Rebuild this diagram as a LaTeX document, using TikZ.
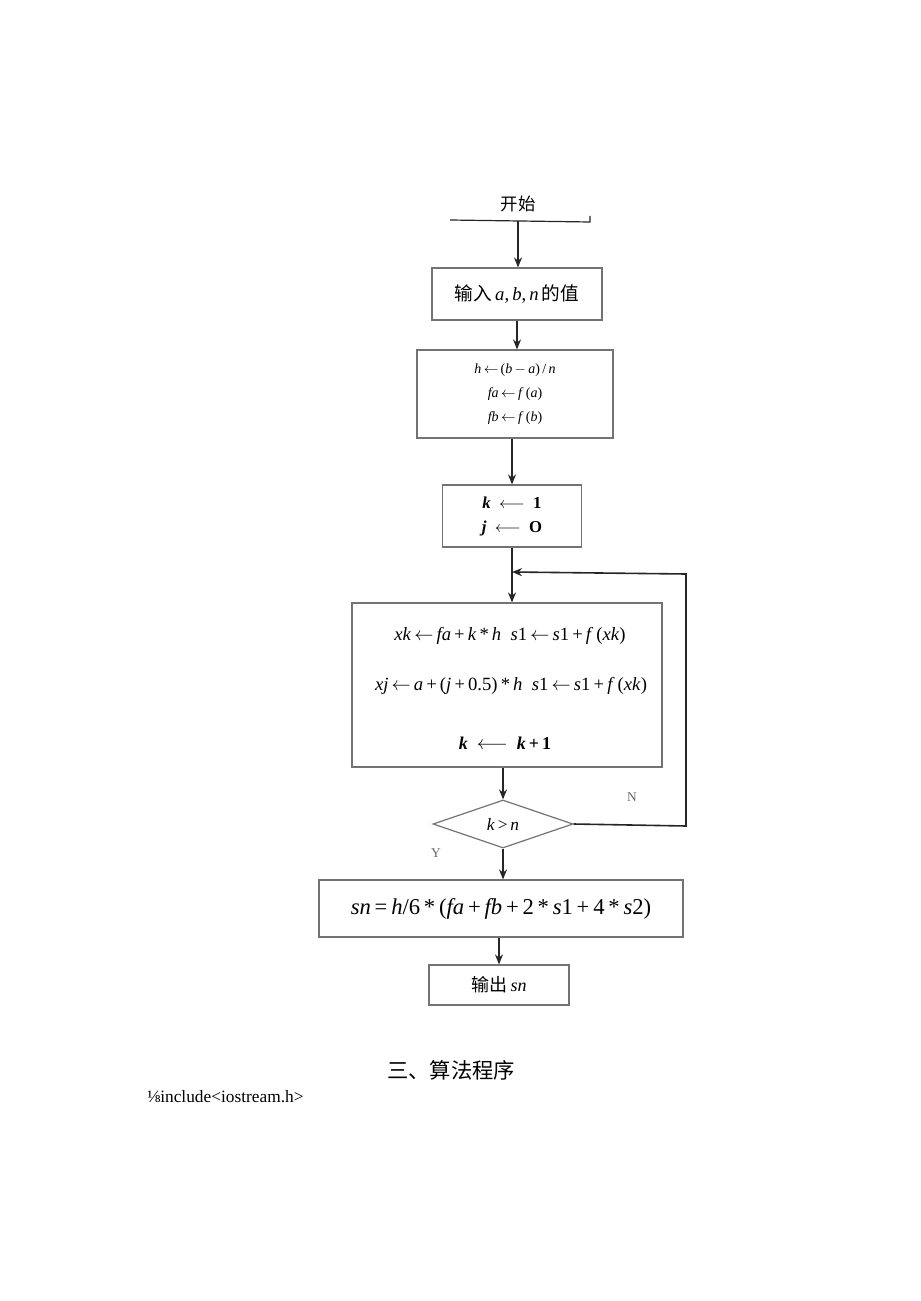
\documentclass[tikz,border=0pt]{standalone}
\usepackage{fontspec}
\setmainfont{Liberation Serif}
\newfontfamily\cjk{Noto Sans CJK SC}
\usetikzlibrary{shapes.geometric,arrows.meta}
\newcommand{\I}[1]{\textit{#1}}
\newcommand{\la}{\ensuremath{\leftarrow}}
\newcommand{\op}[1]{\,#1\,}
\begin{document}
\begin{tikzpicture}[x=0.75pt,y=-0.75pt,
  box/.style={draw=black!55,line width=0.9pt,rectangle,inner sep=0pt},
  conn/.style={draw=black!85,line width=1.2pt},
  arr/.style={conn,-{Stealth[length=7.5pt,width=6pt]}},
  lbl/.style={inner sep=0pt,text=black!60,font=\fontsize{10}{11}\selectfont}]
\useasboundingbox (0,0) rectangle (920,1301);
\fill[white] (0,0) rectangle (920,1301);
% start
\node[inner sep=0pt,font=\cjk\fontsize{13}{14}\selectfont] (start) at (518,204) {开始};
\coordinate (sl) at (450,220);
\coordinate (sr) at (590,222);
\coordinate (st) at (590,216);
\coordinate (sm) at (518,221);
\draw[conn,line width=0.9pt] (sl) -- (sr) -- (st);
% boxes
\node[box,minimum width=127.5pt,minimum height=39pt,font=\fontsize{14}{16}\selectfont] (b1) at (517,294) {{\cjk 输入}\,\I{a},\,\I{b},\,\I{n}\,{\cjk 的值}};
\node[box,minimum width=147pt,minimum height=66pt,align=center,font=\fontsize{10.5}{18}\selectfont] (b2) at (515,394)
 {\I{h}\,\la\,(\I{b}\,$-$\,\I{a})\,/\,\I{n}\\ \I{fa}\,\la\,\I{f}\,(\I{a})\\ \I{fb}\,\la\,\I{f}\,(\I{b})};
\node[box,minimum width=104.25pt,minimum height=46.5pt,align=center,font=\bfseries\fontsize{12.5}{18}\selectfont] (b3) at (512,516)
 {\I{k} \ $\longleftarrow$ \ 1\\ \I{j} \ $\longleftarrow$ \ O};
\node[box,minimum width=232.5pt,minimum height=123pt] (b4) at (507,685) {};
\node[inner sep=0pt,font=\fontsize{14}{16}\selectfont] (l1) at (510,636) {\I{xk}\op{\la}\I{fa}\op{+}\I{k}\op{*}\I{h}\ \ \I{s}1\op{\la}\I{s}1\op{+}\I{f}\,(\I{xk})};
\node[inner sep=0pt,font=\fontsize{14}{16}\selectfont] (l2) at (511,686) {\I{xj}\op{\la}\I{a}\op{+}(\I{j}\op{+}0.5)\op{*}\I{h}\ \ \I{s}1\op{\la}\I{s}1\op{+}\I{f}\,(\I{xk})};
\node[inner sep=0pt,font=\bfseries\fontsize{13.5}{15}\selectfont] (l3) at (505,743) {\I{k}\ \ $\longleftarrow$\ \ \I{k}\op{+}1};
\node[draw=black!55,line width=0.9pt,diamond,aspect=2.9,inner sep=0pt,minimum width=105pt,minimum height=36pt,font=\fontsize{13}{14}\selectfont] (d) at (503,824) {\I{k}\op{>}\I{n}};
\node[box,minimum width=273pt,minimum height=42.75pt,font=\fontsize{17}{19}\selectfont] (b5) at (501,908.5)
 {\I{sn}\op{=}\I{h}/6\op{*}(\I{fa}\op{+}\I{fb}\op{+}2\op{*}\I{s}1\op{+}4\op{*}\I{s}2)};
\node[box,minimum width=105pt,minimum height=30pt,font=\fontsize{13.5}{15}\selectfont] (b6) at (499,985) {{\cjk 输出}\,\I{sn}};
% labels
\node[lbl] (N) at (632,797) {N};
\node[lbl] (Y) at (436,853) {Y};
% connectors
\draw[arr] (sm) -- (sm |- b1.north);
\draw[arr] (b1.south) -- (b1.south |- b2.north);
\draw[arr] (b2.south -| b3.north) -- (b3.north);
\coordinate (j) at (512,572);
\draw[conn] (b3.south -| j) -- (j);
\draw[arr] (j) -- (j |- b4.north);
\coordinate (c1) at (686,826);
\coordinate (c2) at (686,574);
\draw[arr] (d.east) -- (c1) -- (c2) -- (j);
\draw[arr] (b4.south -| d.north) -- (d.north);
\draw[arr] (d.south) -- (d.south |- b5.north);
\draw[arr] (b5.south -| b6.north) -- (b6.north);
% text below
\node[inner sep=0pt,font=\cjk\fontsize{16}{18}\selectfont] (title) at (451,1070) {三、算法程序};
\node[inner sep=0pt,anchor=west,font=\fontsize{13}{15}\selectfont] (code) at (147,1097) {⅛include<iostream.h>};
\end{tikzpicture}
\end{document}
